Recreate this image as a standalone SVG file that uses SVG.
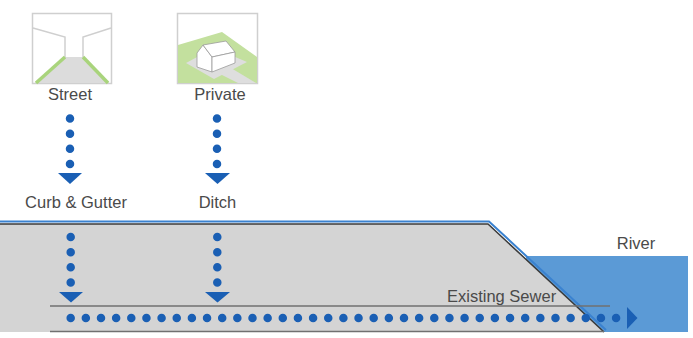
<svg xmlns="http://www.w3.org/2000/svg" width="693" height="338" viewBox="0 0 693 338">
  <style>
    .lbl { font-family: "Liberation Sans", Arial, sans-serif; fill: #4a4a4a; font-size: 16.5px; }
    .frame { fill: #ffffff; stroke: #cfcfcf; stroke-width: 1.5; }
    .wall { fill: none; stroke: #cfcfcf; stroke-width: 1.5; }
    .flow { fill: none; stroke: #1a5fb4; stroke-width: 8.5; stroke-linecap: round; }
    .head { fill: #1a5fb4; }
    .pipe { stroke: #707070; stroke-width: 1.5; }
  </style>

  <!-- river -->
  <g id="river">
    <rect x="526" y="256" width="162" height="76" fill="#5b9ad6"/>
    <text class="lbl" x="636" y="249" text-anchor="middle">River</text>
  </g>

  <!-- ground section with bank slope -->
  <g id="ground">
    <polygon points="0,224 488,224 604,332 0,332" fill="#d4d4d4"/>
    <polyline points="0,221.5 489,221.5 606,330" fill="none" stroke="#3a82d0" stroke-width="2"/>
    <polyline points="0,224 488,224 604,332" fill="none" stroke="#3a3a3a" stroke-width="1.5"/>
  </g>

  <!-- existing sewer pipe -->
  <g id="sewer">
    <line class="pipe" x1="50" y1="306" x2="610" y2="306"/>
    <line class="pipe" x1="50" y1="331.5" x2="604" y2="331.5"/>
    <text class="lbl" x="447" y="302" font-size="14.5">Existing Sewer</text>
  </g>

  <!-- street icon -->
  <g id="street">
    <rect class="frame" x="32.5" y="13.5" width="79" height="70"/>
    <polyline class="wall" points="33,28 65,37 65,57"/>
    <polyline class="wall" points="111,28 83,37 83,57"/>
    <polygon points="65,57 83,57 109,83 35,83" fill="#dcdcdc"/>
    <line x1="65" y1="57" x2="36" y2="83" stroke="#a9d47c" stroke-width="3.5"/>
    <line x1="83" y1="57" x2="108" y2="83" stroke="#a9d47c" stroke-width="3.5"/>
    <text class="lbl" x="70" y="100" text-anchor="middle">Street</text>
  </g>

  <!-- private property icon -->
  <g id="private">
    <rect class="frame" x="177.5" y="13.5" width="80" height="70"/>
    <polygon points="178,45 222,32 257,57 257,83 178,83" fill="#c3e09e"/>
    <polygon points="186,63 214,48 247,62 214,79" fill="#dedede"/>
    <polygon points="220,74 231,68 256,83 238,83" fill="#dedede"/>
    <g fill="#ffffff" stroke="#9a9a9a" stroke-width="0.8" stroke-linejoin="round">
      <polygon points="197,53 203,45 212,57 212,72 197,67"/>
      <polygon points="203,45 226,41 235,52 212,57"/>
      <polygon points="212,57 235,52 235,63 212,72"/>
    </g>
    <text class="lbl" x="220" y="100" text-anchor="middle">Private</text>
  </g>

  <g id="curb-gutter">
    <text class="lbl" x="76" y="208" text-anchor="middle">Curb &amp; Gutter</text>
  </g>

  <g id="ditch">
    <text class="lbl" x="217.5" y="208" text-anchor="middle">Ditch</text>
  </g>

  <!-- flow connectors -->
  <g id="connectors">
    <line class="flow" x1="70" y1="118.5" x2="70" y2="164.5" stroke-dasharray="0 15.17"/>
    <polygon class="head" points="58,173 82,173 70,184"/>
    <line class="flow" x1="217" y1="118.5" x2="217" y2="164.5" stroke-dasharray="0 15.17"/>
    <polygon class="head" points="205,173 230,173 217.5,184"/>

    <line class="flow" x1="70.7" y1="237" x2="70.7" y2="283" stroke-dasharray="0 15.17"/>
    <polygon class="head" points="59,292 83,292 71,302.5"/>
    <line class="flow" x1="217.3" y1="237" x2="217.3" y2="283" stroke-dasharray="0 15.17"/>
    <polygon class="head" points="205,292 230,292 217.5,302.5"/>

    <line class="flow" x1="70.7" y1="318" x2="616.5" y2="318" stroke-dasharray="0 15.15"/>
    <polygon class="head" points="627,307 637.5,318 627,329"/>
  </g>
</svg>
